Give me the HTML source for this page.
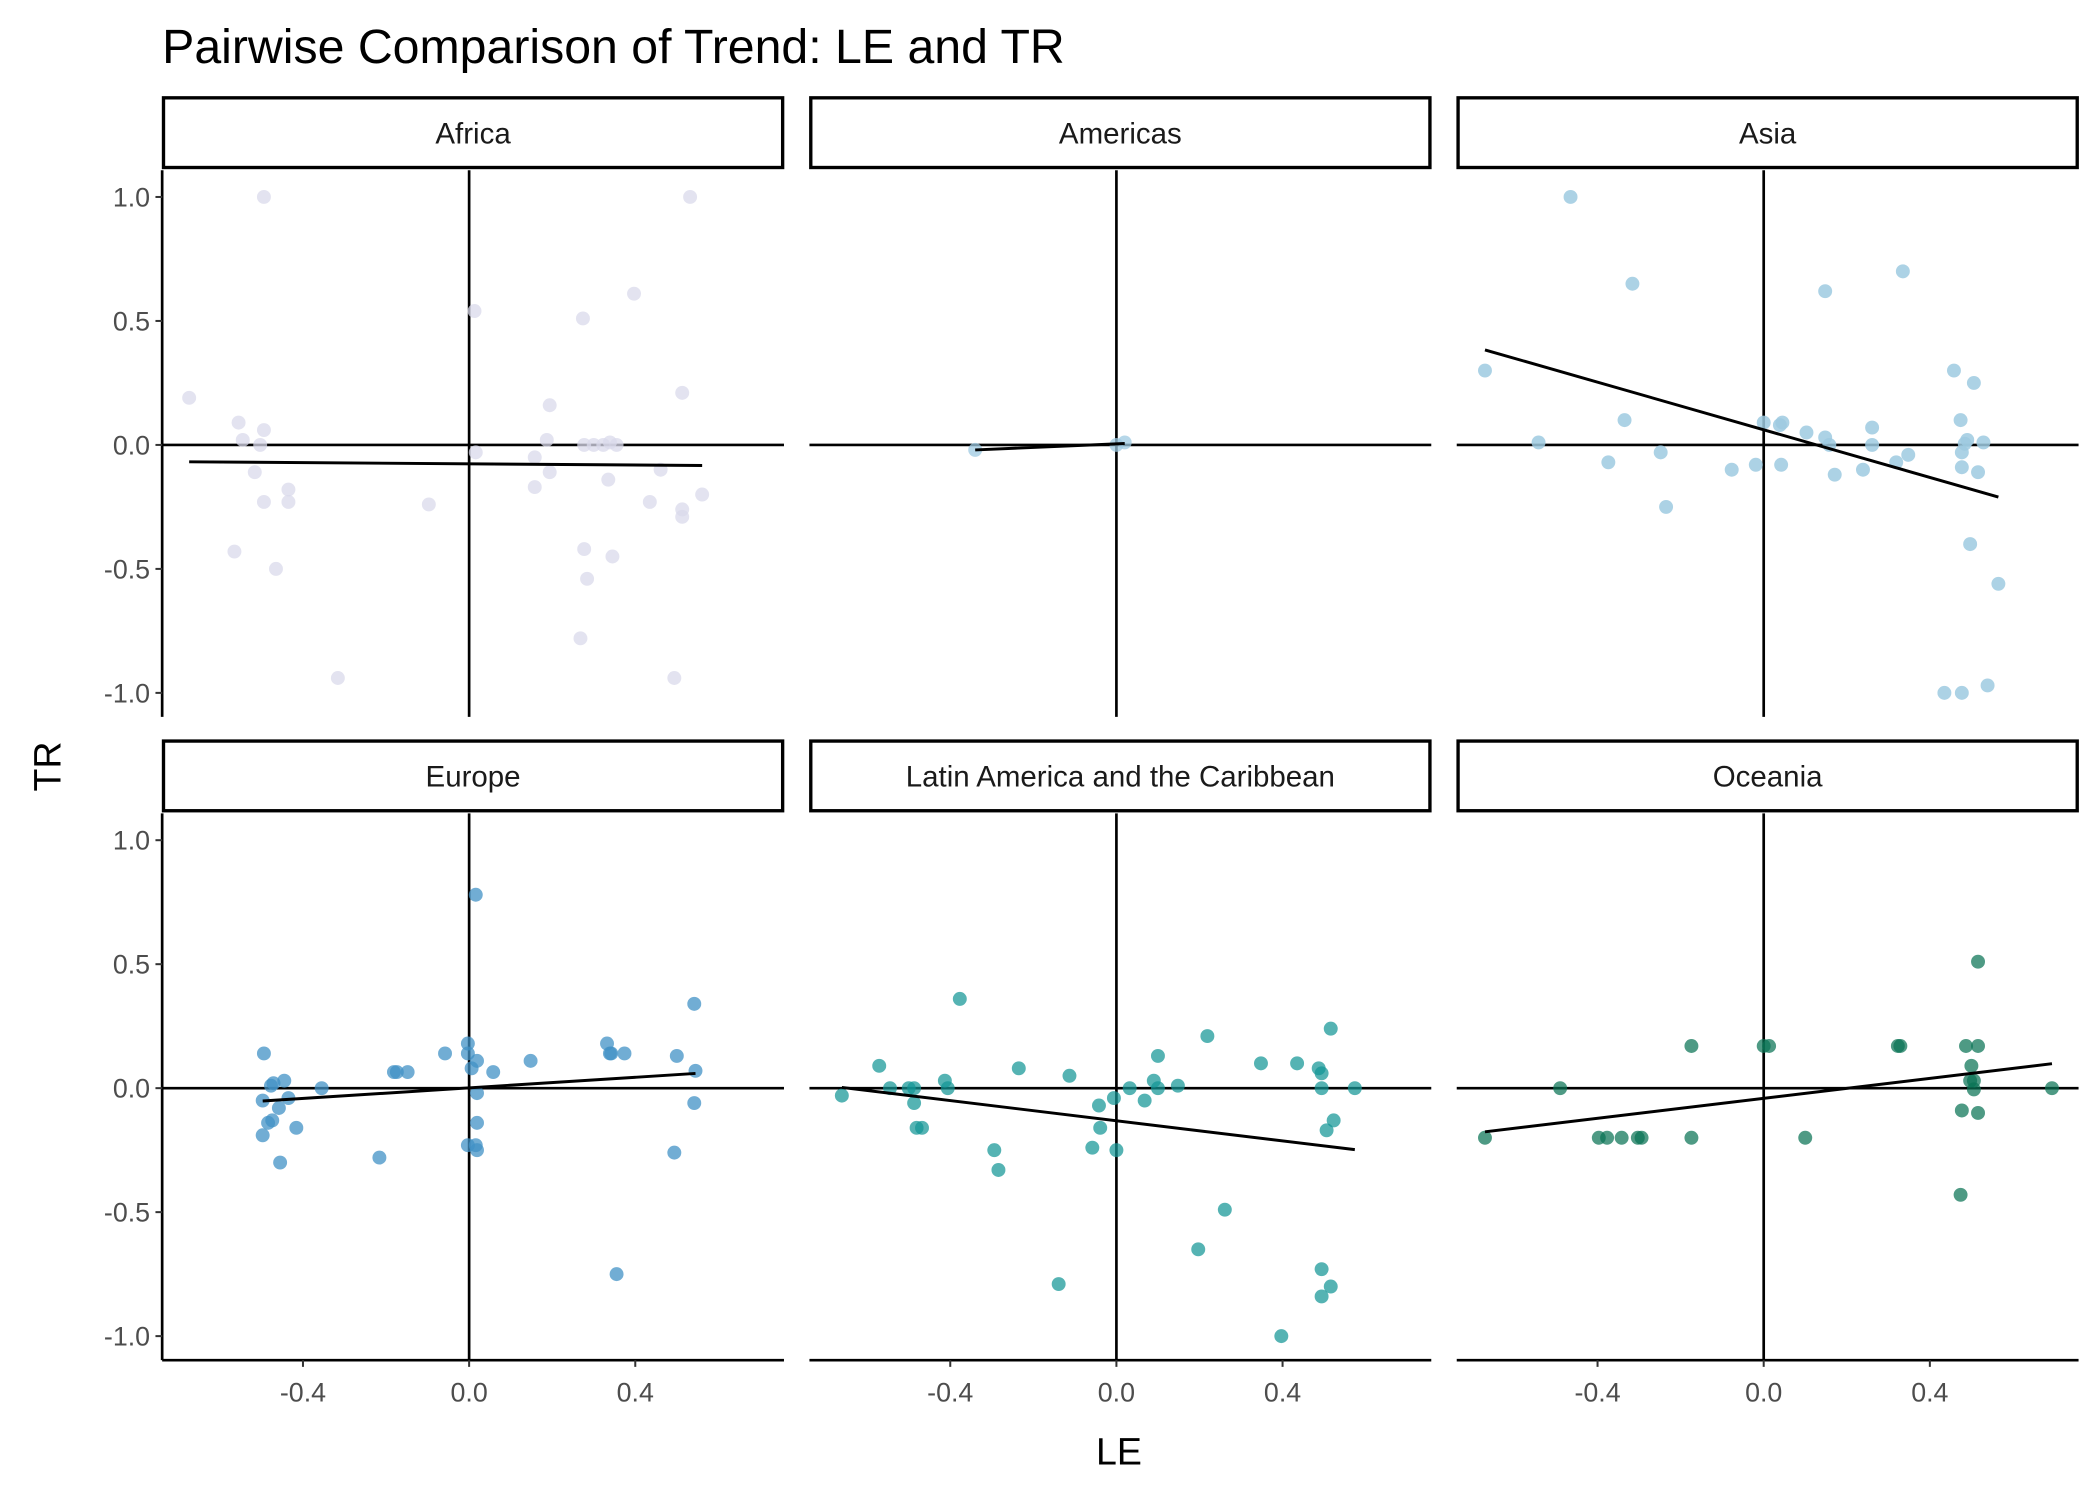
<!DOCTYPE html>
<html><head><meta charset="utf-8"><style>
html,body{margin:0;padding:0;background:#fff}
svg{display:block}
text{font-family:"Liberation Sans",Arial,sans-serif}
</style></head><body>
<svg id="chart" width="2100" height="1499" viewBox="0 0 1567 1118.6" preserveAspectRatio="none" xmlns="http://www.w3.org/2000/svg">
<rect width="1567" height="1118.6" fill="#fff"/>
<text x="121" y="47" font-size="36" fill="#000">Pairwise Comparison of Trend: LE and TR</text>
<text x="835" y="1093" font-size="28" text-anchor="middle" fill="#000">LE</text>
<text transform="translate(45,572) rotate(-90)" font-size="28" text-anchor="middle" fill="#000">TR</text>
<g id="panels"></g>
</svg>
<script>
const regions = ["Africa","Americas","Asia","Europe","Latin America and the Caribbean","Oceania"];
const regionColors = ["rgba(218,218,235,0.75)","rgba(158,202,225,0.75)","rgba(158,202,225,0.85)","rgba(66,146,198,0.75)","rgba(20,150,150,0.72)","rgba(10,115,85,0.72)"];
const xTickValues = [-0.4, 0.0, 0.4];
const xTickLabels = ["-0.4","0.0","0.4"];
const yTickValues = [1.0, 0.5, 0.0, -0.5, -1.0];
const yTickLabels = ["1.0","0.5","0.0","-0.5","-1.0"];

const africaLE = [-0.674,-0.494,-0.555,-0.545,-0.503,-0.494,-0.516,-0.494,-0.435,-0.435,-0.565,-0.465,-0.316,-0.097,0.013,0.016,0.194,0.187,0.194,0.158,0.158,0.274,0.277,0.284,0.268,0.277,0.3,0.323,0.339,0.355,0.335,0.345,0.397,0.461,0.435,0.513,0.513,0.513,0.494,0.561,0.532];
const africaTR = [0.19,1.0,0.09,0.02,0.0,0.06,-0.11,-0.23,-0.18,-0.23,-0.43,-0.5,-0.94,-0.24,0.54,-0.03,0.16,0.02,-0.11,-0.05,-0.17,0.51,-0.42,-0.54,-0.78,0.0,0.0,0.0,0.01,0.0,-0.14,-0.45,0.61,-0.1,-0.23,0.21,-0.26,-0.29,-0.94,-0.2,1.0];
const americasLE = [-0.34,0.0,0.02];
const americasTR = [-0.02,0.0,0.01];
const asiaLE = [-0.671,-0.465,-0.316,-0.542,-0.335,-0.374,-0.248,-0.235,-0.077,-0.019,0,0.039,0.045,0.042,0.103,0.148,0.158,0.171,0.239,0.261,0.261,0.319,0.148,0.335,0.348,0.458,0.474,0.506,0.477,0.477,0.484,0.49,0.516,0.529,0.497,0.565,0.435,0.477,0.539];
const asiaTR = [0.3,1.0,0.65,0.01,0.1,-0.07,-0.03,-0.25,-0.1,-0.08,0.09,0.08,0.09,-0.08,0.05,0.03,0.0,-0.12,-0.1,0.07,0.0,-0.07,0.62,0.7,-0.04,0.3,0.1,0.25,-0.03,-0.09,0.005,0.02,-0.11,0.01,-0.4,-0.56,-1.0,-1.0,-0.97];
const europeLE = [-0.494,-0.497,-0.497,-0.477,-0.471,-0.484,-0.474,-0.445,-0.458,-0.435,-0.416,-0.455,-0.355,-0.216,-0.181,-0.174,-0.148,-0.058,-0.003,-0.003,0.006,0.019,0.016,0.019,0.019,0.019,0.016,-0.003,0.058,0.148,0.332,0.339,0.342,0.374,0.5,0.542,0.545,0.542,0.494,0.355];
const europeTR = [0.14,-0.05,-0.19,0.01,0.02,-0.14,-0.13,0.03,-0.08,-0.04,-0.16,-0.3,0.0,-0.28,0.065,0.065,0.065,0.14,0.18,0.14,0.08,0.11,0.78,-0.02,-0.14,-0.25,-0.23,-0.23,0.065,0.11,0.18,0.14,0.14,0.14,0.13,0.34,0.07,-0.06,-0.26,-0.75];
const latamLE = [-0.661,-0.571,-0.545,-0.5,-0.487,-0.487,-0.481,-0.468,-0.413,-0.406,-0.377,-0.294,-0.284,-0.235,-0.113,-0.058,-0.042,-0.039,-0.006,0,0.032,0.068,0.09,0.1,0.1,0.148,0.219,0.261,0.197,-0.139,0.348,0.435,0.487,0.494,0.494,0.506,0.523,0.516,0.516,0.494,0.494,0.397,0.574];
const latamTR = [-0.03,0.09,0.0,0.0,0.0,-0.06,-0.16,-0.16,0.03,0.0,0.36,-0.25,-0.33,0.08,0.05,-0.24,-0.07,-0.16,-0.04,-0.25,0.0,-0.05,0.03,0.13,0.0,0.01,0.21,-0.49,-0.65,-0.79,0.1,0.1,0.08,0.0,0.06,-0.17,-0.13,0.24,-0.8,-0.73,-0.84,-1.0,0.0];
const oceaniaLE = [-0.671,-0.49,-0.397,-0.377,-0.342,-0.303,-0.294,-0.174,-0.174,0,0.013,0.1,0.323,0.329,0.474,0.477,0.487,0.5,0.506,0.506,0.516,0.516,0.516,0.694,0.497];
const oceaniaTR = [-0.2,0.0,-0.2,-0.2,-0.2,-0.2,-0.2,0.17,-0.2,0.17,0.17,-0.2,0.17,0.17,-0.43,-0.09,0.17,0.09,0.03,-0.005,0.17,-0.1,0.51,0.0,0.03];

const panelLE = [africaLE, americasLE, asiaLE, europeLE, latamLE, oceaniaLE];
const panelTR = [africaTR, americasTR, asiaTR, europeTR, latamTR, oceaniaTR];

const NS = "http://www.w3.org/2000/svg";
const root = document.getElementById("panels");
const colX = [121, 604, 1087];
const rowY = [127, 607];
const PW = 464, PH = 408;
const xMin = -0.739, xMax = 0.758, yMin = -1.097, yMax = 1.108;
function mk(tag, attrs, parent){ const e=document.createElementNS(NS,tag); for(const k in attrs) e.setAttribute(k,attrs[k]); (parent||root).appendChild(e); return e; }

regions.forEach((name, i) => {
  const c = i % 3, r = Math.floor(i / 3);
  const x0 = colX[c], y0 = rowY[r];
  const sx = v => x0 + (v - xMin) / (xMax - xMin) * PW;
  const sy = v => y0 + (yMax - v) / (yMax - yMin) * PH;
  const g = mk("g", {});
  
  
  const strip = mk("rect", {x:x0+1, y:y0-54, width:PW-2, height:52, fill:"#fff", stroke:"#000", "stroke-width":2.5}, g);
  
  
  const st = mk("text", {x:x0+PW/2, y:y0-20, "font-size":22, "text-anchor":"middle", fill:"#1a1a1a"}, g);
  st.textContent = name;
  
  
  mk("line", {x1:sx(0), x2:sx(0), y1:y0, y2:y0+PH, stroke:"#000", "stroke-width":2}, g);
  mk("line", {x1:x0, x2:x0+PW, y1:sy(0), y2:sy(0), stroke:"#000", "stroke-width":2}, g);
  if (c === 0) {
    const ax = mk("line", {x1:x0, x2:x0, y1:y0, y2:y0+PH, stroke:"#000", "stroke-width":2}, g);
    
    
    yTickValues.forEach((v, k) => {
      mk("line", {x1:x0-5, x2:x0, y1:sy(v), y2:sy(v), stroke:"#333", "stroke-width":1.5}, g);
      const t = mk("text", {x:x0-9, y:sy(v)+7, "font-size":20, "text-anchor":"end", fill:"#4d4d4d"}, g);
      t.textContent = yTickLabels[k];
      
      
    });
  }
  if (r === 1) {
    const ax = mk("line", {x1:x0, x2:x0+PW, y1:y0+PH, y2:y0+PH, stroke:"#000", "stroke-width":2}, g);
    
    
    xTickValues.forEach((v, k) => {
      mk("line", {x1:sx(v), x2:sx(v), y1:y0+PH, y2:y0+PH+5, stroke:"#333", "stroke-width":1.5}, g);
      const t = mk("text", {x:sx(v), y:y0+PH+31, "font-size":20, "text-anchor":"middle", fill:"#4d4d4d"}, g);
      t.textContent = xTickLabels[k];
      
      
    });
  }
  const xs = panelLE[i], ys = panelTR[i];
  xs.forEach((xv, k) => {
    const p = mk("circle", {cx:sx(xv), cy:sy(ys[k]), r:5.2, fill:regionColors[i]}, g);
    
    
  });
  const n = xs.length;
  const mx = xs.reduce((a,b)=>a+b,0)/n, my = ys.reduce((a,b)=>a+b,0)/n;
  let sxy=0, sxx=0;
  for (let k=0;k<n;k++){ sxy+=(xs[k]-mx)*(ys[k]-my); sxx+=(xs[k]-mx)**2; }
  const b = sxx ? sxy/sxx : 0, a = my - b*mx;
  const lo = Math.min(...xs), hi = Math.max(...xs);
  const fit = mk("line", {x1:sx(lo), y1:sy(a+b*lo), x2:sx(hi), y2:sy(a+b*hi), stroke:"#000", "stroke-width":2.2}, g);
  
  
});
</script>
</body></html>
